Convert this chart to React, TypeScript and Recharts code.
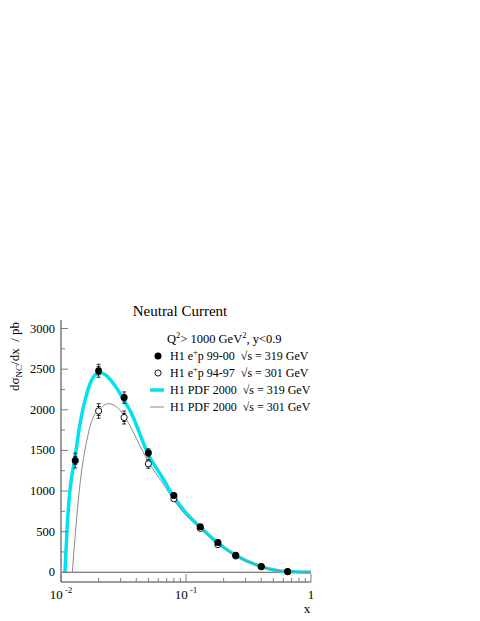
import React from 'react';
import { ComposedChart, Line, Scatter, XAxis, YAxis, ErrorBar, ReferenceLine } from 'recharts';

const FONT = '"Liberation Serif", "DejaVu Serif", serif';
const FRAME = '#7c7c7c';
const CYAN = '#00e2f0';
const GRAY = '#8a8a8a';

// H1 e+p 99-00, sqrt(s)=319 GeV
const x9900 = [0.013, 0.02, 0.032, 0.05, 0.08, 0.13, 0.18, 0.25, 0.4, 0.65];
const y9900 = [1375, 2480, 2150, 1470, 945, 560, 365, 210, 70, 8];
const tot9900 = [92, 80, 70, 50, 25, 15, 10, 8, 4, 1];
const stat9900 = [50, 50, 40, 30, 15, 10, 6, 4, 2, 1];

// H1 e+p 94-97, sqrt(s)=301 GeV
const x9497 = [0.02, 0.032, 0.05, 0.08, 0.13, 0.18, 0.25, 0.4, 0.65];
const y9497 = [1985, 1905, 1335, 905, 540, 340, 200, 68, 6];
const tot9497 = [90, 80, 55, 30, 18, 12, 8, 4, 1];
const stat9497 = [55, 50, 35, 18, 12, 8, 5, 2, 1];

// H1 PDF 2000, 319 GeV
const x319 = [0.01076, 0.0112, 0.0118, 0.0129, 0.0142, 0.0161, 0.0181, 0.0202, 0.0225, 0.0247, 0.0285, 0.0325, 0.0357, 0.05, 0.065, 0.08, 0.1, 0.13, 0.18, 0.25, 0.4, 0.65, 1.0];
const y319 = [0, 560, 1010, 1400, 1830, 2200, 2400, 2455, 2435, 2375, 2245, 2095, 1990, 1450, 1160, 926, 730, 557, 360, 210, 70, 8, 0];

// H1 PDF 2000, 301 GeV
const x301 = [0.01232, 0.0129, 0.0142, 0.0161, 0.0181, 0.0202, 0.0239, 0.0289, 0.0335, 0.04, 0.05, 0.065, 0.08, 0.1, 0.13, 0.18, 0.25, 0.4, 0.65, 1.0];
const y301 = [0, 394, 1090, 1624, 1910, 2000, 2075, 2013, 1878, 1650, 1357, 1100, 886, 700, 540, 345, 205, 68, 7, 0];

const xTicks = [0.01, 0.02, 0.03, 0.04, 0.05, 0.06, 0.07, 0.08, 0.09, 0.1, 0.2, 0.3, 0.4, 0.5, 0.6, 0.7, 0.8, 0.9, 1];
const yTicks = [0, 250, 500, 750, 1000, 1250, 1500, 1750, 2000, 2250, 2500, 2750, 3000];
const xDomain = [0.01, 1];
const yDomain = [-120, 3105];

const pts9900 = x9900.map((x, i) => ({ x, y: y9900[i], tot: tot9900[i], stat: stat9900[i] }));
const pts9497 = x9497.map((x, i) => ({ x, y: y9497[i], tot: tot9497[i], stat: stat9497[i] }));
const curve319 = x319.map((x, i) => ({ x, y: y319[i] }));
const curve301 = x301.map((x, i) => ({ x, y: y301[i] }));

const isDecade = (v: number) => Math.abs(Math.log10(v) - Math.round(Math.log10(v))) < 1e-6;

const BottomTick = (p: any) => {
  const { x, y, payload } = p;
  const v = payload.value;
  const major = isDecade(v);
  const e = Math.round(Math.log10(v));
  return (
    <g>
      <line x1={x} x2={x} y1={y} y2={y - (major ? 8 : 4)} stroke={FRAME} strokeWidth={1} />
      {major && (
        <text x={x} y={y + 17} textAnchor="middle" fontFamily={FONT} fontSize={13} fill="#000">
          {e === 0 ? '1' : (
            <>
              <tspan>10</tspan>
              <tspan dy={-6} fontSize={9}>{` ${e}`}</tspan>
            </>
          )}
        </text>
      )}
    </g>
  );
};

const TopTick = (p: any) => {
  const { x, y, payload } = p;
  const major = isDecade(payload.value);
  return <line x1={x} x2={x} y1={y} y2={y + (major ? 8 : 4)} stroke={FRAME} strokeWidth={1} />;
};

const LeftTick = (p: any) => {
  const { x, y, payload } = p;
  const v = payload.value;
  const major = v % 500 === 0;
  return (
    <g>
      <line x1={x} x2={x + (major ? 7 : 4)} y1={y} y2={y} stroke={FRAME} strokeWidth={1} />
      {major && (
        <text x={x - 6} y={y + 4} textAnchor="end" fontFamily={FONT} fontSize={12.5} fill="#000">
          {v}
        </text>
      )}
    </g>
  );
};

const RightTick = (p: any) => {
  const { x, y, payload } = p;
  const major = payload.value % 500 === 0;
  return <line x1={x} x2={x - (major ? 7 : 4)} y1={y} y2={y} stroke={FRAME} strokeWidth={1} />;
};

const FilledDot = (p: any) => <circle cx={p.cx} cy={p.cy} r={3.5} fill="#000" />;
const OpenDot = (p: any) => <circle cx={p.cx} cy={p.cy} r={3.1} fill="#fff" stroke="#000" strokeWidth={0.9} />;

const legendRows = [
  { kind: 'filled', label: 'H1 e', rest: 'p 99-00  \u221As = 319 GeV' },
  { kind: 'open', label: 'H1 e', rest: 'p 94-97  \u221As = 301 GeV' },
  { kind: 'cyan', label: 'H1 PDF 2000  \u221As = 319 GeV', rest: '' },
  { kind: 'gray', label: 'H1 PDF 2000  \u221As = 301 GeV', rest: '' },
];

export default function App() {
  const axisLine = { stroke: FRAME, strokeWidth: 1.5 };
  return (
    <div style={{ position: 'absolute', left: 0, top: 0, width: 480, height: 621, background: '#fff' }}>
      <ComposedChart
        width={480}
        height={621}
        margin={{ top: 320, right: 169, bottom: 9, left: 21 }}
      >
        <XAxis
          dataKey="x"
          type="number"
          scale="log"
          domain={xDomain}
          allowDataOverflow
          ticks={xTicks}
          interval={0}
          tick={(p: any) => <BottomTick {...p} />}
          tickLine={false}
          tickSize={0}
          tickMargin={0}
          axisLine={axisLine}
          height={30}
        />
        <XAxis
          xAxisId="top"
          orientation="top"
          type="number"
          scale="log"
          domain={xDomain}
          allowDataOverflow
          ticks={xTicks}
          interval={0}
          tick={(p: any) => <TopTick {...p} />}
          tickLine={false}
          tickSize={0}
          tickMargin={0}
          axisLine={axisLine}
          height={0}
        />
        <YAxis
          type="number"
          domain={yDomain}
          allowDataOverflow
          ticks={yTicks}
          interval={0}
          tick={(p: any) => <LeftTick {...p} />}
          tickLine={false}
          tickSize={0}
          tickMargin={0}
          axisLine={axisLine}
          width={40}
        />
        <YAxis
          yAxisId="right"
          orientation="right"
          type="number"
          domain={yDomain}
          allowDataOverflow
          ticks={yTicks}
          interval={0}
          tick={(p: any) => <RightTick {...p} />}
          tickLine={false}
          tickSize={0}
          tickMargin={0}
          axisLine={axisLine}
          width={0}
        />
        <ReferenceLine y={0} stroke="#555" strokeWidth={1} />
        <Line data={curve319} dataKey="y" type="monotone" stroke={CYAN} strokeWidth={3.5} dot={false} isAnimationActive={false} />
        <Line data={curve301} dataKey="y" type="monotone" stroke={GRAY} strokeWidth={1} dot={false} isAnimationActive={false} />
        <Scatter data={pts9497} dataKey="y" shape={(p: any) => <OpenDot {...p} />} isAnimationActive={false}>
          <ErrorBar dataKey="tot" direction="y" width={2} stroke="#000" strokeWidth={0.8} />
          <ErrorBar dataKey="stat" direction="y" width={2} stroke="#000" strokeWidth={0.8} />
        </Scatter>
        <Scatter data={pts9900} dataKey="y" shape={(p: any) => <FilledDot {...p} />} isAnimationActive={false}>
          <ErrorBar dataKey="tot" direction="y" width={2} stroke="#000" strokeWidth={0.8} />
          <ErrorBar dataKey="stat" direction="y" width={2} stroke="#000" strokeWidth={0.8} />
        </Scatter>
      </ComposedChart>
      <svg width={480} height={621} style={{ position: 'absolute', left: 0, top: 0, pointerEvents: 'none' }}>
        <text x={180} y={316} textAnchor="middle" fontFamily={FONT} fontSize={15} fill="#000">Neutral Current</text>
        <text transform="translate(19,322) rotate(-90)" textAnchor="end" fontFamily={FONT} fontSize={13} fill="#000" style={{ whiteSpace: 'pre' }}>
          <tspan>d{'\u03C3'}</tspan>
          <tspan dy={3} fontSize={9}>NC</tspan>
          <tspan dy={-3}>{'/dx  / pb'}</tspan>
        </text>
        <text x={307} y={613} textAnchor="middle" fontFamily={FONT} fontSize={13} fill="#000">x</text>
        <text x={167} y={343} fontFamily={FONT} fontSize={12.5} fill="#000" style={{ whiteSpace: 'pre' }}>
          <tspan>Q</tspan>
          <tspan dy={-5} fontSize={8.5}>2</tspan>
          <tspan dy={5}>{'> 1000 GeV'}</tspan>
          <tspan dy={-5} fontSize={8.5}>2</tspan>
          <tspan dy={5}>{', y<0.9'}</tspan>
        </text>
        {legendRows.map((r, i) => {
          const cy = 356 + i * 17;
          return (
            <g key={i}>
              {r.kind === 'filled' && <circle cx={158} cy={cy} r={3.5} fill="#000" />}
              {r.kind === 'open' && <circle cx={158} cy={cy} r={3.1} fill="#fff" stroke="#000" strokeWidth={0.9} />}
              {r.kind === 'cyan' && <line x1={150} x2={164} y1={cy} y2={cy} stroke={CYAN} strokeWidth={3.5} />}
              {r.kind === 'gray' && <line x1={150} x2={164} y1={cy} y2={cy} stroke={GRAY} strokeWidth={1} />}
              <text x={170} y={cy + 4} fontFamily={FONT} fontSize={12} fill="#000" style={{ whiteSpace: 'pre' }}>
                {r.rest ? (
                  <>
                    <tspan>{r.label}</tspan>
                    <tspan dy={-5} fontSize={8.5}>+</tspan>
                    <tspan dy={5}>{r.rest}</tspan>
                  </>
                ) : r.label}
              </text>
            </g>
          );
        })}
      </svg>
    </div>
  );
}
